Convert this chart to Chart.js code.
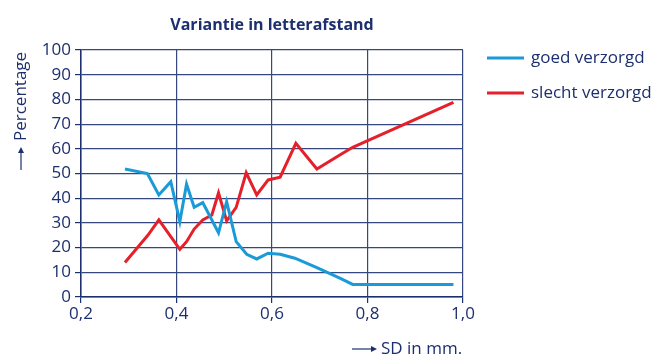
<!DOCTYPE html>
<html>
<head>
<meta charset="utf-8">
<script src="https://cdn.jsdelivr.net/npm/chart.js@4"></script>
<style>
    html, body { margin: 0; padding: 0; background: #fff; }
    #wrap { width: 670px; height: 360px; }
</style>
</head>
<body>
<div id="wrap"><canvas id="chart" width="670" height="360"></canvas></div>
<script>
const goedX = [0.292, 0.339, 0.363, 0.388, 0.407, 0.421, 0.437, 0.455, 0.488, 0.505, 0.525, 0.547, 0.568, 0.592, 0.617, 0.648, 0.694, 0.742, 0.769, 0.98]
const goedY = [51.8, 50, 41.3, 46.7, 30.5, 45.7, 36.3, 38.2, 26, 38.6, 22.4, 17.3, 15.4, 17.7, 17.3, 15.7, 11.9, 7.6, 5.1, 5.1]

const slechtX = [0.292, 0.34, 0.363, 0.407, 0.421, 0.437, 0.455, 0.474, 0.488, 0.505, 0.525, 0.546, 0.568, 0.592, 0.617, 0.65, 0.694, 0.742, 0.769, 0.98]
const slechtY = [14, 25, 31.2, 19.3, 22.4, 27.5, 31.2, 33.2, 42.2, 30.8, 36.3, 50.3, 41.3, 47.4, 48.5, 62.2, 51.8, 57.5, 60.6, 78.8]

const seriesNames = ["goed verzorgd", "slecht verzorgd"]
const seriesColors = ["#1a9ad6", "#e4202a"]
const xTicks = [0.2, 0.4, 0.6, 0.8, 1.0]

const navy = "#1c2f6e"
const gridColor = "#34487f"
const fontFamily = "'Open Sans', 'Noto Sans', sans-serif"

function toPoints(xs, ys) {
    return xs.map((x, i) => ({ x, y: ys[i] }))
}

// axis titles with arrows + legend on the right
const extrasPlugin = {
    id: "extras",
    afterDraw(chart) {
        const ctx = chart.ctx
        ctx.save()
        ctx.fillStyle = navy
        ctx.strokeStyle = navy
        ctx.font = "17px " + fontFamily

        // y title
        ctx.save()
        ctx.translate(21, 0)
        ctx.rotate(-Math.PI / 2)
        ctx.textBaseline = "middle"
        ctx.textAlign = "left"
        ctx.fillText("Percentage", -141, 0)
        ctx.lineWidth = 1.2
        ctx.beginPath()
        ctx.moveTo(-170, 0)
        ctx.lineTo(-151, 0)
        ctx.stroke()
        ctx.beginPath()
        ctx.moveTo(-147, 0)
        ctx.lineTo(-153, -3)
        ctx.lineTo(-153, 3)
        ctx.closePath()
        ctx.fill()
        ctx.restore()

        // x title
        ctx.textBaseline = "middle"
        ctx.textAlign = "left"
        ctx.fillText("SD in mm.", 381, 349)
        ctx.lineWidth = 1.2
        ctx.beginPath()
        ctx.moveTo(352, 349)
        ctx.lineTo(373, 349)
        ctx.stroke()
        ctx.beginPath()
        ctx.moveTo(377, 349)
        ctx.lineTo(371, 346)
        ctx.lineTo(371, 352)
        ctx.closePath()
        ctx.fill()

        // legend
        ctx.font = "17px " + fontFamily
        const legendY = [58, 93]
        seriesNames.forEach((name, i) => {
            ctx.strokeStyle = seriesColors[i]
            ctx.lineWidth = 3
            ctx.beginPath()
            ctx.moveTo(487, legendY[i])
            ctx.lineTo(524, legendY[i])
            ctx.stroke()
            ctx.fillStyle = navy
            ctx.fillText(name, 531, legendY[i])
        })
        ctx.restore()
    },
}

new Chart(document.getElementById("chart").getContext("2d"), {
    type: "line",
    plugins: [extrasPlugin],
    data: {
        datasets: [
            {
                label: seriesNames[0],
                data: toPoints(goedX, goedY),
                borderColor: seriesColors[0],
                borderWidth: 3,
                pointRadius: 0,
                tension: 0,
            },
            {
                label: seriesNames[1],
                data: toPoints(slechtX, slechtY),
                borderColor: seriesColors[1],
                borderWidth: 3,
                pointRadius: 0,
                tension: 0,
            },
        ],
    },
    options: {
        responsive: false,
        animation: false,
        layout: {
            padding: { left: 0, right: 207, top: 0, bottom: 0 },
        },
        plugins: {
            legend: { display: false },
            tooltip: { enabled: false },
            title: {
                display: true,
                text: "Variantie in letterafstand",
                fullSize: false,
                color: navy,
                font: { family: fontFamily, size: 16, weight: "bold" },
                padding: { top: 16, bottom: 14.8 },
            },
        },
        scales: {
            x: {
                type: "linear",
                min: 0.2,
                max: 1.0,
                afterBuildTicks: (scale) => {
                    scale.ticks = xTicks.map((v) => ({ value: v }))
                },
                afterFit: (scale) => {
                    scale.height = 63
                },
                ticks: {
                    color: navy,
                    font: { family: fontFamily, size: 17 },
                    padding: 1,
                    callback: (v) => Number(v).toFixed(1).replace(".", ","),
                },
                grid: {
                    color: gridColor,
                    lineWidth: 1.2,
                    tickLength: 6,
                    tickColor: navy,
                },
                border: { color: navy, width: 1.5 },
            },
            y: {
                min: 0,
                max: 100,
                afterFit: (scale) => {
                    scale.width = 81
                },
                ticks: {
                    stepSize: 10,
                    color: navy,
                    font: { family: fontFamily, size: 17 },
                    padding: 4,
                },
                grid: {
                    color: gridColor,
                    lineWidth: 1.2,
                    tickLength: 6,
                    tickColor: navy,
                },
                border: { color: navy, width: 1.5 },
            },
        },
    },
})
</script>
</body>
</html>
